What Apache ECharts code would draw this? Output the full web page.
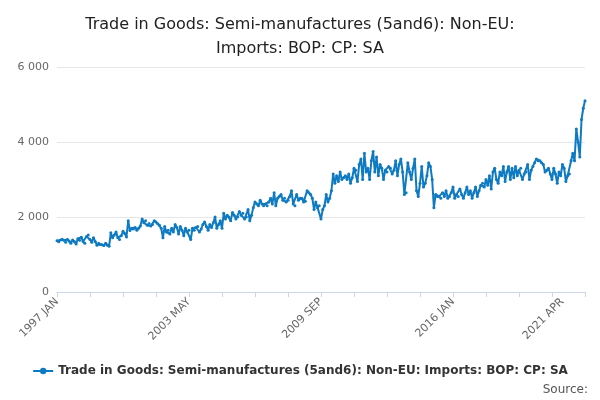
<!DOCTYPE html>
<html><head><meta charset="utf-8">
<script src="https://cdn.jsdelivr.net/npm/echarts@6/dist/echarts.min.js"></script>
</head><body style="margin:0">
<div id="c" style="width:600px;height:400px"></div>
<script>
var months = ['JAN','FEB','MAR','APR','MAY','JUN','JUL','AUG','SEP','OCT','NOV','DEC'];
var values = [
1370,1340,1390,1410,1380,1330,1400,1360,1300,1390,1350,1280,
1420,1380,1460,1350,1300,1480,1520,1400,1330,1450,1350,1250,
1300,1270,1260,1240,1300,1250,1220,1580,1450,1520,1600,1450,
1400,1500,1620,1560,1470,1900,1640,1700,1680,1720,1650,1700,
1760,1950,1850,1900,1780,1830,1760,1800,1900,1870,1820,1780,
1700,1450,1750,1600,1650,1550,1700,1600,1800,1720,1550,1750,
1650,1500,1700,1600,1650,1400,1700,1650,1720,1750,1600,1680,
1800,1870,1750,1650,1800,1720,1850,2000,1700,1800,1900,1700,
2100,1950,2050,2000,1900,2120,2050,1950,2000,2150,2050,2100,
1950,2000,2200,1900,2050,2250,2400,2350,2300,2450,2350,2300,
2350,2300,2400,2500,2350,2650,2300,2500,2550,2600,2450,2500,
2400,2450,2550,2700,2350,2300,2600,2450,2500,2500,2400,2420,
2700,2650,2600,2500,2200,2400,2250,2300,1950,2200,2300,2600,
2400,2500,2700,3150,2900,3100,2950,3200,3000,3050,3100,3000,
3150,2900,3050,3300,3250,2950,3400,3550,3000,3700,3200,3300,
3000,3500,3750,3200,3600,3100,3400,3300,3000,3250,3200,3350,
3300,3150,3250,3500,3100,3400,3550,3200,2600,2650,3450,3200,
3000,3300,3550,2700,2550,2900,3350,2800,2900,3100,3450,3350,
3000,2250,2600,2550,2550,2500,2650,2550,2700,2500,2550,2650,
2800,2500,2600,2550,2750,2600,2500,2650,2800,2600,2700,2500,
2650,2800,2550,2700,2850,2900,2800,3000,2850,3100,2750,3200,
3300,3000,2900,3200,3100,3350,2950,3200,3350,3000,3300,3050,
3350,3100,3250,3300,3000,3150,3200,3400,3000,3250,3350,3450,
3550,3500,3500,3450,3400,3200,3250,3300,3150,3000,3300,3150,
2900,3200,3100,3400,3300,2950,3100,3150,3500,3700,3500,4350,
4000,3600,4600,4900,5100
];
var labels = [];
for (var y = 1997; labels.length < values.length; y++)
  for (var m = 0; m < 12 && labels.length < values.length; m++) labels.push(y + ' ' + months[m]);
var shown = ['1997 JAN','2003 MAY','2009 SEP','2016 JAN','2021 APR'];
var chart = echarts.init(document.getElementById('c'));
chart.setOption({
  animation: false,
  title: {text: 'Trade in Goods: Semi-manufactures (5and6): Non-EU:\nImports: BOP: CP: SA', left: 'center', top: 8,
    textStyle: {fontFamily: 'DejaVu Sans', fontSize: 16, fontWeight: 'normal', color: '#222', lineHeight: 24}},
  legend: {bottom: 18, left: 'center', itemWidth: 20, itemHeight: 8, textStyle: {fontFamily: 'DejaVu Sans', fontWeight: 'bold', fontSize: 12, color: '#333'}},
  graphic: [{type: 'text', right: 12, bottom: 4, style: {text: 'Source:', font: '12px DejaVu Sans', fill: '#555'}}],
  grid: {left: 57, right: 15, top: 67, bottom: 108},
  xAxis: {type: 'category', data: labels, boundaryGap: false,
    axisLine: {lineStyle: {color: '#ccd6eb'}},
    axisTick: {alignWithLabel: true, interval: function (i) { return i % 19 === 0 || i === values.length - 1; }, lineStyle: {color: '#ccd6eb'}},
    axisLabel: {interval: function (i, v) { return shown.indexOf(v) >= 0; }, rotate: 45, color: '#666', fontFamily: 'DejaVu Sans', fontSize: 11}},
  yAxis: {type: 'value', min: 0, max: 6000, interval: 2000,
    axisLabel: {color: '#666', fontFamily: 'DejaVu Sans', fontSize: 11, formatter: function (v) { return v === 0 ? '0' : v.toString().replace(/\B(?=(\d{3})+(?!\d))/g, ' '); }},
    splitLine: {lineStyle: {color: '#e6e6e6'}}},
  series: [{name: 'Trade in Goods: Semi-manufactures (5and6): Non-EU: Imports: BOP: CP: SA', type: 'line', data: values,
    symbol: 'circle', symbolSize: 3, showAllSymbol: true, itemStyle: {color: '#0e7ac2'}, lineStyle: {width: 2, color: '#0e7ac2'}}]
});
</script></body></html>
